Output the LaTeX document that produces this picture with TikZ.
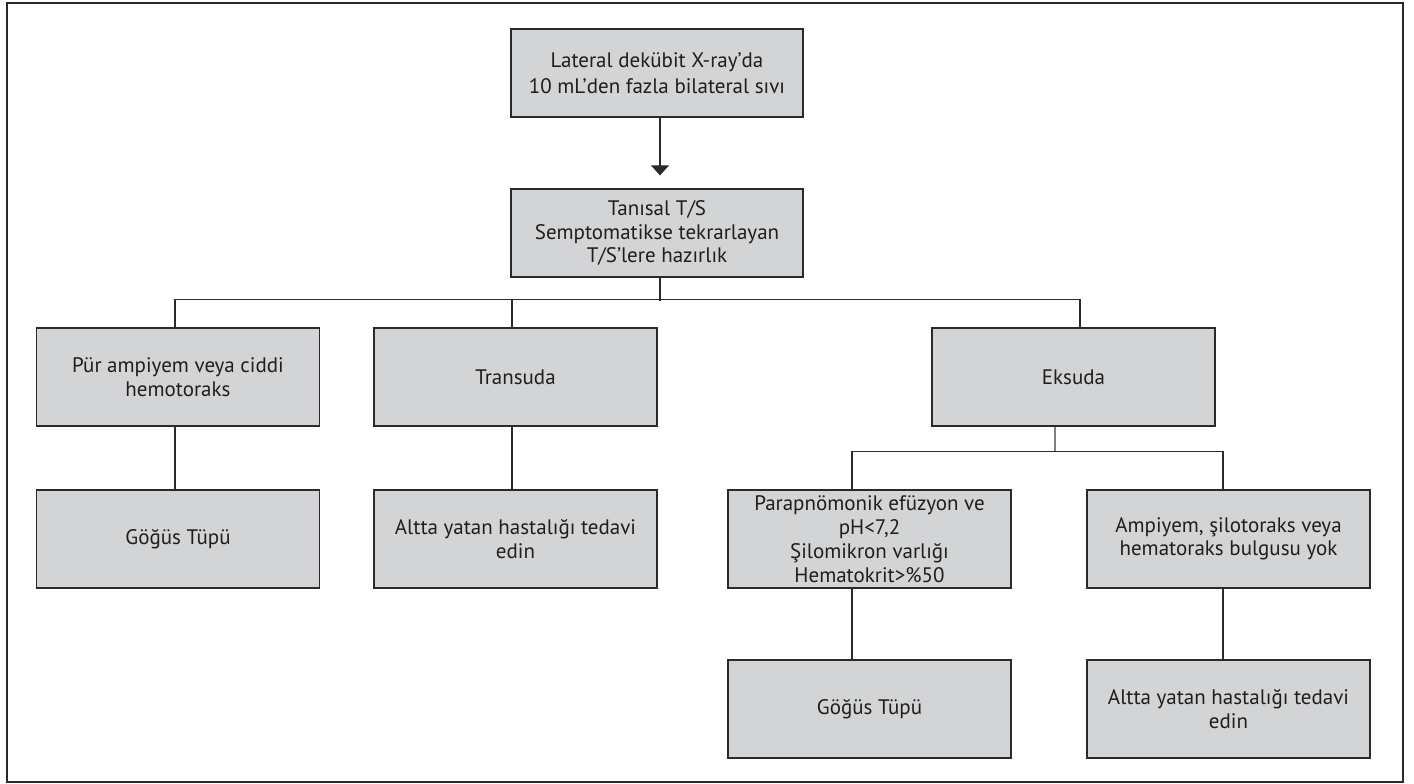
\documentclass[tikz,border=0pt]{standalone}
\usepackage{fontspec}
\setmainfont{PT Sans}
\usetikzlibrary{arrows.meta}
\definecolor{boxfill}{HTML}{D3D4D6}
\definecolor{linec}{HTML}{2A2A2A}
\definecolor{txt}{HTML}{1E1E1E}
\tikzset{
  box/.style={draw=linec, line width=1.3pt, fill=boxfill, rectangle, minimum width=283pt, minimum height=98pt, inner sep=0pt, align=center, text=txt, font=\fontsize{21}{23.5}\selectfont},
  topbox/.style={box, minimum width=292pt, minimum height=88pt},
  conn/.style={draw=linec, line width=1.1pt},
  arr/.style={conn, -{Triangle[width=18pt,length=10pt]}, shorten >=13pt}
}
\begin{document}
\begin{tikzpicture}[x=1pt,y=-1pt]
\useasboundingbox (0,0) rectangle (1414,784);
\draw[draw=linec, line width=1.5pt] (7,3) rectangle (1403,782);
\node[topbox, font=\fontsize{21}{26.5}\selectfont] (top) at (657,73) {Lateral dekübit X-ray’da\\10 mL’den fazla bilateral sıvı};
\node[topbox] (ts) at (657,233) {Tanısal T/S\\Semptomatikse tekrarlayan\\T/S’lere hazırlık};
\node[box] (pur) at (178,377) {Pür ampiyem veya ciddi\\hemotoraks};
\node[box] (tra) at (515.5,377) {Transuda};
\node[box] (eks) at (1073.5,377) {Eksuda};
\node[box] (gt1) at (178,539) {Göğüs Tüpü};
\node[box] (alt1) at (515.5,539) {Altta yatan hastalığı tedavi\\edin};
\node[box, font=\fontsize{21}{24}\selectfont] (para) at (869.5,539) {Parapnömonik efüzyon ve\\pH<7,2\\Şilomikron varlığı\\Hematokrit>\%50};
\node[box] (amp) at (1228.5,539) {Ampiyem, şilotoraks veya\\hematoraks bulgusu yok};
\node[box] (gt2) at (869.5,709) {Göğüs Tüpü};
\node[box] (alt2) at (1228.5,709) {Altta yatan hastalığı tedavi\\edin};
\draw[arr] ([xshift=3pt]top.south) -- ([xshift=3pt]ts.north);
\draw[conn] ([xshift=3pt]ts.south) -- ++(0,23);
\draw[conn] ([xshift=-3pt]pur.north) -- ++(0,-28) -| ([xshift=6.5pt]eks.north);
\draw[conn] ([xshift=-3.5pt]tra.north) -- ++(0,-28);
\draw[conn] ([xshift=-3pt]pur.south) -- ([xshift=-3pt]gt1.north);
\draw[conn] ([xshift=-3.5pt]tra.south) -- ([xshift=-3.5pt]alt1.north);
\draw[conn, draw=gray, line width=1.6pt] ([xshift=-18.5pt]eks.south) -- ++(0,25);
\draw[conn] ([xshift=-17.5pt]para.north) -- ++(0,-38) -| ([xshift=-5.5pt]amp.north);
\draw[conn] ([xshift=-17.5pt]para.south) -- ([xshift=-17.5pt]gt2.north);
\draw[conn] ([xshift=-5.5pt]amp.south) -- ([xshift=-5.5pt]alt2.north);
\end{tikzpicture}
\end{document}
